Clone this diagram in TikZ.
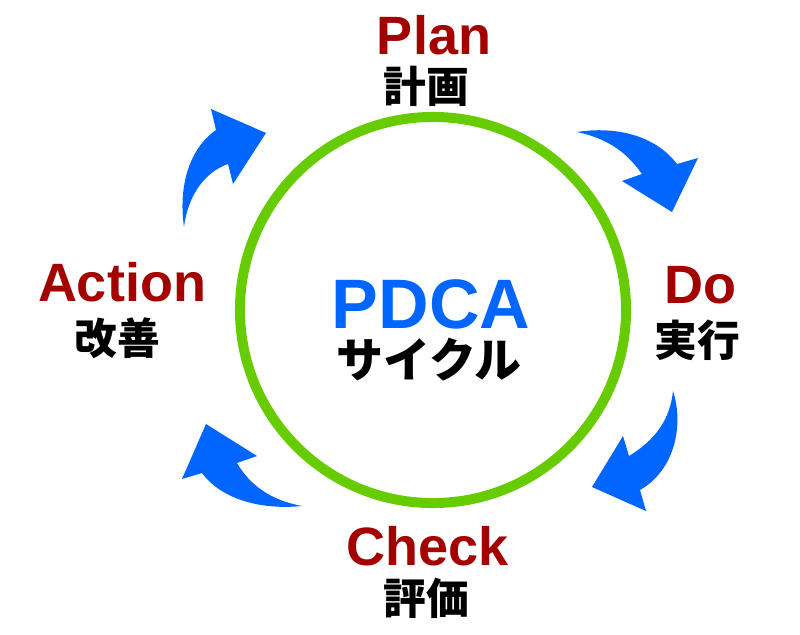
\documentclass[tikz,border=0pt]{standalone}
\usepackage{fontspec}
\setmainfont{Liberation Sans}
\newfontfamily\jpfont{Noto Sans CJK JP}
\usepackage{tikz}
\usetikzlibrary{positioning, calc}

\definecolor{stepred}{RGB}{165,0,0}
\definecolor{flowblue}{RGB}{0,102,255}
\definecolor{ringgreen}{RGB}{102,204,0}

\begin{document}
\begin{tikzpicture}[
    x=0.025cm, y=-0.025cm,
    phase/.style={font=\fontsize{38.4}{40}\selectfont\bfseries, text=stepred, inner sep=0pt, anchor=base},
    phasejp/.style={font=\jpfont\bfseries\fontsize{30.4}{32}\selectfont, inner sep=0pt},
    flow/.style={fill=flowblue, draw=none},
    ring/.style={draw=ringgreen, line width=7.1pt}
  ]

    %% ── canvas ──
    \useasboundingbox (0,0) rectangle (800,635);

    %% ── ring ──
    \draw[ring] (433,310) circle[radius=4.825cm];

    %% ── centre ──
    \node[font=\fontsize{49.8}{52}\selectfont\bfseries, text=flowblue, inner sep=0pt, anchor=base]
      (pdca) at (431,328) {PDCA};
    \node[font=\jpfont\bfseries\fontsize{33.4}{35}\selectfont, inner sep=0pt, anchor=base,
      text height=0.6em, text depth=0pt]
      (cycle) at (429,377) {サイクル};

    %% ── four steps ──
    \node[phase] (plan)   at (434,55)  {Plan};
    \node[phasejp] (planjp)   at (426,86)  {計画};
    \node[phase] (do)     at (700,303) {Do};
    \node[phasejp] (dojp)     at (697,340) {実行};
    \node[phase] (check)  at (428,565) {Check};
    \node[phasejp] (checkjp)  at (426,598) {評価};
    \node[phase] (action) at (122,302) {Action};
    \node[phasejp] (actionjp) at (117,338) {改善};

    %% ═══════ ARROWS ═══════

    %% Action -> Plan
    \fill[flow] (184,227) .. controls (178,185) and (190,148) .. (216,130)
      -- (211,109) -- (266,133) -- (233,184) -- (228,164)
      .. controls (205,172) and (188,195) .. cycle;

    %% Plan -> Do
    \fill[flow] (577,132) .. controls (615,126) and (655,135) .. (677,164)
      -- (698,158) -- (672,212) -- (622,181) -- (642,174)
      .. controls (625,150) and (605,138) .. cycle;

    %% Do -> Check
    \fill[flow] (673,391) .. controls (684,425) and (675,470) .. (640,490)
      -- (646,511) -- (592,487) -- (623,436) -- (629,456)
      .. controls (655,440) and (670,420) .. cycle;

    %% Check -> Action
    \fill[flow] (302,506) .. controls (262,510) and (222,500) .. (202,473)
      -- (182,479) -- (206,424) -- (257,456) -- (237,463)
      .. controls (250,485) and (270,500) .. cycle;

  \end{tikzpicture}
\end{document}
